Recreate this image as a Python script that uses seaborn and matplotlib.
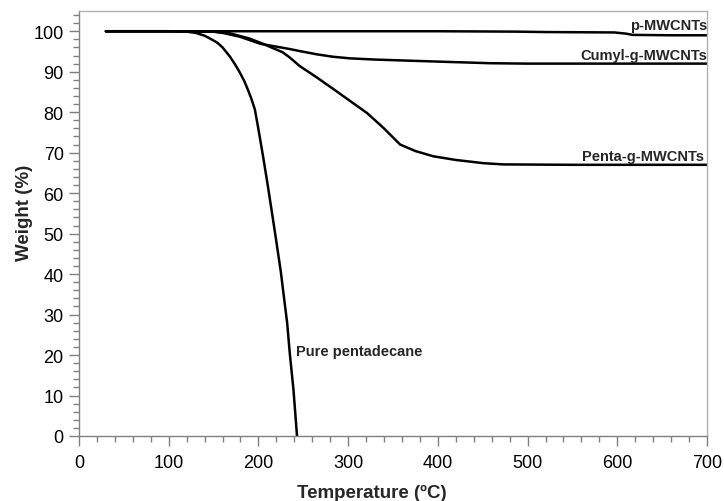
import matplotlib
matplotlib.use("Agg")
import matplotlib.pyplot as plt
from matplotlib.ticker import MultipleLocator
import seaborn as sns
import pandas as pd

sns.set_theme(style="ticks")
plt.rcParams['font.family'] = ['Liberation Sans', 'DejaVu Sans']

# Data (Temperature in °C, Weight in %)
p_T = [30, 100, 200, 300, 400, 488, 520, 597, 610, 617, 660, 700]
p_W = [100, 100, 100, 100, 100, 99.9, 99.8, 99.7, 99.4, 99.1, 99.0, 99.0]

cumyl_T = [30, 100, 150, 160, 180, 202, 235, 246, 265, 283, 302, 330, 358, 400, 458, 500, 600, 700]
cumyl_W = [100, 100, 99.9, 99.6, 98.6, 96.9, 95.6, 95.1, 94.3, 93.7, 93.3, 93.0, 92.8, 92.5, 92.1, 92.0, 92.0, 92.0]

penta_T = [30, 100, 150, 168, 190, 205, 227, 235, 246, 265, 283, 302, 321, 339, 358, 375, 395, 420, 451, 473, 550, 700]
penta_W = [100, 100, 99.9, 99.5, 98.2, 96.9, 94.8, 93.5, 91.4, 88.6, 85.8, 82.8, 79.8, 76.2, 72.0, 70.4, 69.1, 68.2, 67.4, 67.1, 67.0, 67.0]

pure_T = [30, 100, 120, 130, 140, 146, 154, 160, 168, 174, 179, 184, 188, 192, 196, 200, 205, 210, 215, 220, 225, 229, 232, 235, 239, 243]
pure_W = [100, 100, 99.9, 99.6, 98.9, 98.2, 97.2, 96.0, 93.8, 91.8, 89.9, 87.8, 85.7, 83.4, 80.7, 75.8, 69.3, 62.5, 55.3, 48.0, 40.5, 33.3, 28.0, 20.3, 11.6, 0]

series_names = ["p-MWCNTs", "Cumyl-g-MWCNTs", "Penta-g-MWCNTs", "Pure pentadecane"]
series_T = [p_T, cumyl_T, penta_T, pure_T]
series_W = [p_W, cumyl_W, penta_W, pure_W]

frames = []
for n, t, w in zip(series_names, series_T, series_W):
    frames.append(pd.DataFrame({"Temperature": t, "Weight": w, "Sample": n}))
df = pd.concat(frames, ignore_index=True)

fig = plt.figure(figsize=(7.24, 5.02), dpi=100)
ax = fig.add_axes([79/724, 65/502, 628/724, 425/502])

sns.lineplot(data=df, x="Temperature", y="Weight", units="Sample", estimator=None,
             sort=False, color="black", linewidth=1.8, ax=ax)

ax.set_xlim(0, 700)
ax.set_ylim(0, 105)
ax.xaxis.set_major_locator(MultipleLocator(100))
ax.xaxis.set_minor_locator(MultipleLocator(20))
ax.yaxis.set_major_locator(MultipleLocator(10))
ax.yaxis.set_minor_locator(MultipleLocator(2))
ax.set_yticks(range(0, 101, 10))

for s in ["left", "bottom"]:
    ax.spines[s].set_color("#808080")
    ax.spines[s].set_linewidth(1.0)
for s in ["top", "right"]:
    ax.spines[s].set_visible(True)
    ax.spines[s].set_color("#b0b0b0")
    ax.spines[s].set_linewidth(1.0)

ax.tick_params(which="major", direction="out", length=7, width=1, color="#808080",
               labelsize=13, labelcolor="black", pad=6)
ax.tick_params(which="minor", direction="out", length=4, width=1, color="#808080")
ax.tick_params(axis="y", pad=4)

ax.set_xlabel("Temperature (ºC)", fontsize=13.5, fontweight="bold")
ax.set_ylabel("Weight (%)", fontsize=13.5, fontweight="bold")
ax.xaxis.set_label_coords(0.467, -0.112)
ax.yaxis.set_label_coords(-0.074, 0.527)

lab_fs = 10.5
ax.text(700, 101.6, "p-MWCNTs", ha="right", va="center", fontsize=lab_fs, fontweight="bold")
ax.text(700, 94.1, "Cumyl-g-MWCNTs", ha="right", va="center", fontsize=lab_fs, fontweight="bold")
ax.text(697, 69.2, "Penta-g-MWCNTs", ha="right", va="center", fontsize=lab_fs, fontweight="bold")
ax.text(242, 21, "Pure pentadecane", ha="left", va="center", fontsize=lab_fs, fontweight="bold")

fig.savefig("out.png", dpi=100)
